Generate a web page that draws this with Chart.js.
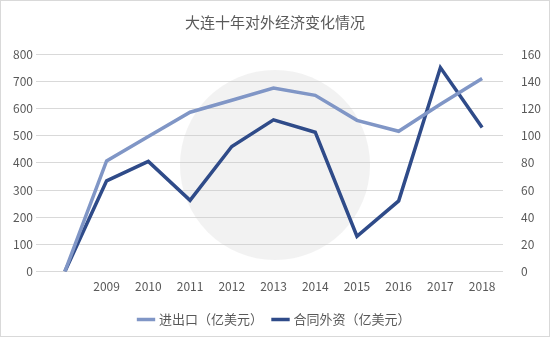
<!DOCTYPE html>
<html>
<head>
<meta charset="utf-8">
<script src="https://cdn.jsdelivr.net/npm/chart.js@4.4.0/dist/chart.umd.min.js"></script>
<style>
body{margin:0;background:#fff}
#wrap{width:548px;height:335px;border:1px solid #d9d9d9}
</style>
</head>
<body>
<div id="wrap"><canvas id="c" width="548" height="335"></canvas></div>
<script>
var annees = ["", "2009", "2010", "2011", "2012", "2013", "2014", "2015", "2016", "2017", "2018"]
var jinChuKou = [0, 407, 497, 586, 630, 675, 648, 556, 516, 615, 710]
var heTongWaiZi = [0, 66.7, 81, 52.4, 92, 111.6, 102.5, 26, 52, 150, 106]
var gauche = [0, 100, 200, 300, 400, 500, 600, 700, 800]
var droite = [0, 20, 40, 60, 80, 100, 120, 140, 160]

var police = "'Noto Sans CJK SC', 'Liberation Sans', sans-serif"

// filigrane gris pale au centre
var filigrane = {
	id: "filigrane",
	beforeDatasetsDraw: function(chart){
		var ctx = chart.ctx
		ctx.save()
		ctx.fillStyle = "rgba(205,205,205,0.25)"
		ctx.beginPath()
		ctx.arc(274, 164, 95, 0, Math.PI*2)
		ctx.fill()
		ctx.restore()
	}
}

new Chart("c", {
	type: "line",
	data: {
		labels: annees,
		datasets: [
			{label: "进出口（亿美元）", data: jinChuKou, yAxisID: "y", borderColor: "#8096c6", backgroundColor: "#8096c6", borderWidth: 3.5, pointRadius: 0, tension: 0},
			{label: "合同外资（亿美元）", data: heTongWaiZi, yAxisID: "y1", borderColor: "#2f4b89", backgroundColor: "#2f4b89", borderWidth: 3.5, pointRadius: 0, tension: 0}
		]
	},
	options: {
		responsive: false,
		animation: false,
		layout: {padding: {top: 6, left: 0, right: 0, bottom: 0}},
		plugins: {
			title: {display: true, text: "大连十年对外经济变化情况", color: "#595959", font: {family: police, size: 15, weight: "normal"}, padding: {top: 6, bottom: 23}},
			legend: {position: "bottom", labels: {usePointStyle: true, pointStyle: "line", boxWidth: 30, color: "#595959", font: {family: police, size: 13}, padding: 11}},
			tooltip: {enabled: false}
		},
		scales: {
			x: {offset: true, grid: {display: false}, border: {display: false}, ticks: {color: "#595959", font: {family: police, size: 12}, maxRotation: 0, autoSkip: false, padding: 0},
				afterFit: function(a){a.height = a.height + 8}},
			y: {position: "left", min: 0, max: 800, afterBuildTicks: function(a){a.ticks = gauche.map(function(v){return {value: v}})},
				grid: {color: "#d9d9d9"}, border: {display: false}, ticks: {color: "#595959", font: {family: police, size: 12}},
				afterFit: function(a){a.width = 43}},
			y1: {position: "right", min: 0, max: 160, afterBuildTicks: function(a){a.ticks = droite.map(function(v){return {value: v}})},
				grid: {display: false}, border: {display: false}, ticks: {color: "#595959", font: {family: police, size: 12}, padding: 10},
				afterFit: function(a){a.width = 46}}
		}
	},
	plugins: [filigrane]
})
</script>
</body>
</html>
